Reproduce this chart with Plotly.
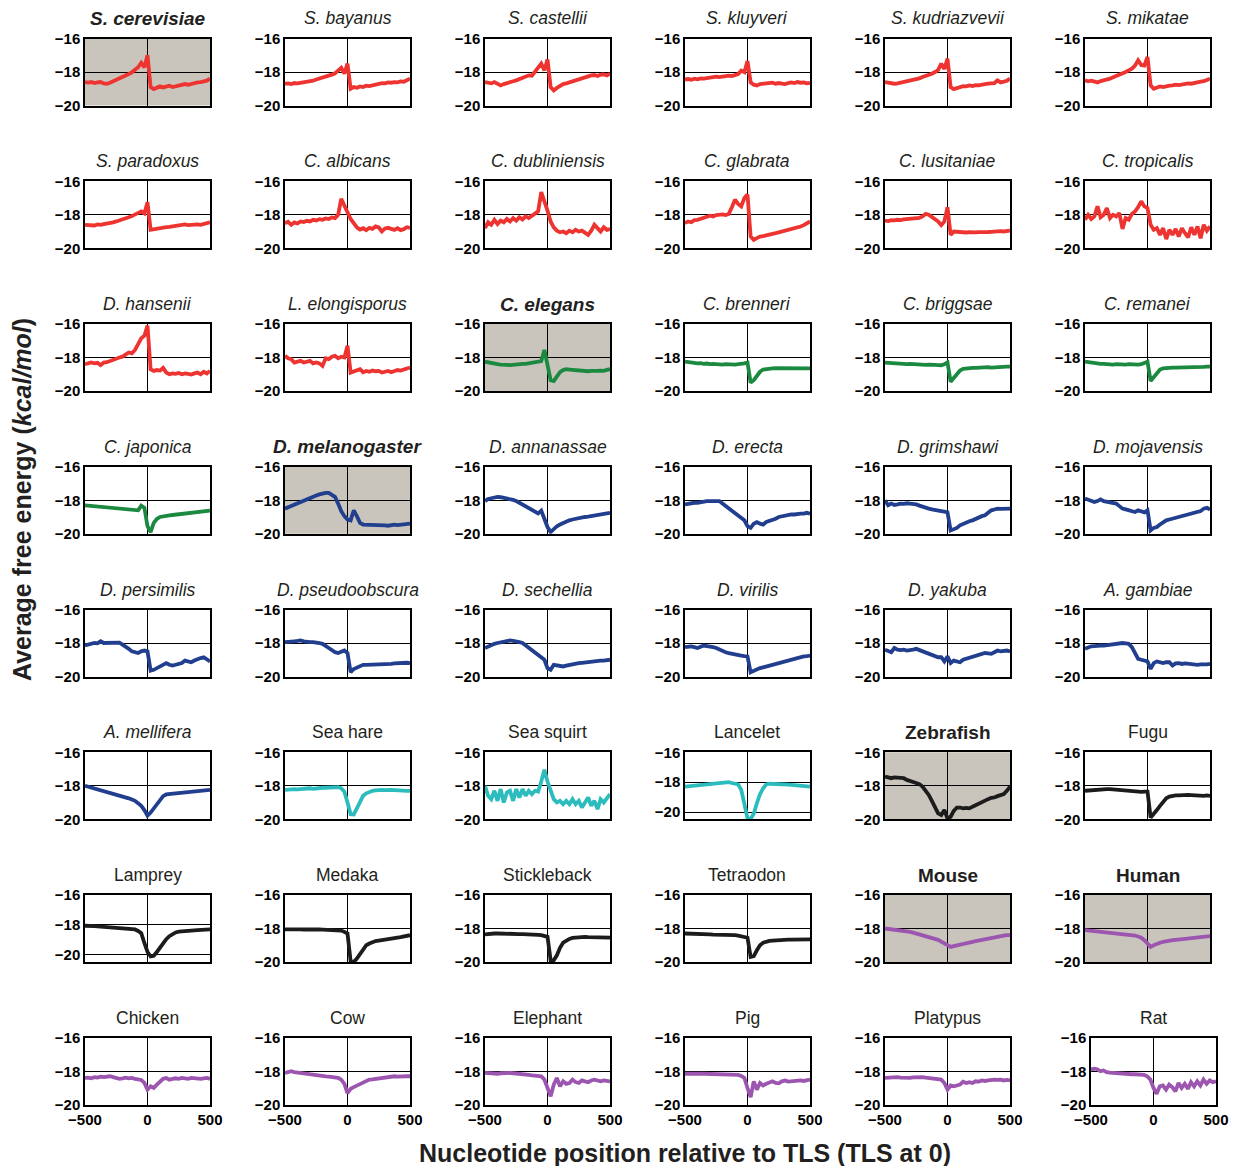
import plotly.graph_objects as go

# Nucleotide positions relative to the translation start site (TLS)
positions = list(range(-500, 501, 25))

# Average folding free energy (kcal/mol) along the window, one profile per species
s_cerevisiae = [-18.60, -18.63, -18.60, -18.66, -18.62, -18.60, -18.68, -18.70, -18.64, -18.56,
                -18.50, -18.40, -18.30, -18.22, -18.12, -18.02, -17.90, -17.72, -17.45, -17.72,
                -17.00, -18.90, -19.02, -18.95, -18.86, -18.92, -18.84, -18.82, -18.90, -18.84,
                -18.80, -18.76, -18.72, -18.76, -18.70, -18.66, -18.62, -18.60, -18.56, -18.52, -18.40]
s_bayanus = [-18.70, -18.68, -18.72, -18.66, -18.68, -18.65, -18.66, -18.62, -18.60, -18.52,
             -18.45, -18.40, -18.32, -18.28, -18.22, -18.16, -18.08, -17.92, -17.75, -18.10,
             -17.50, -19.00, -18.90, -18.94, -18.86, -18.90, -18.82, -18.84, -18.78, -18.74,
             -18.72, -18.66, -18.68, -18.62, -18.64, -18.60, -18.62, -18.56, -18.58, -18.50, -18.40]
s_castellii = [-18.60, -18.62, -18.68, -18.60, -18.72, -18.80, -18.72, -18.68, -18.60, -18.55,
               -18.50, -18.42, -18.36, -18.28, -18.20, -18.22, -18.00, -17.75, -17.50, -17.90,
               -17.25, -18.90, -19.10, -18.95, -18.80, -18.72, -18.68, -18.62, -18.58, -18.52,
               -18.45, -18.38, -18.30, -18.24, -18.20, -18.18, -18.24, -18.16, -18.15, -18.20, -18.10]
s_kluyveri = [-18.45, -18.42, -18.46, -18.40, -18.44, -18.38, -18.40, -18.36, -18.32, -18.30,
              -18.28, -18.30, -18.26, -18.24, -18.22, -18.24, -18.18, -18.12, -17.92, -18.02,
              -17.35, -18.62, -18.76, -18.80, -18.72, -18.70, -18.66, -18.68, -18.64, -18.70,
              -18.66, -18.70, -18.72, -18.66, -18.62, -18.66, -18.60, -18.64, -18.62, -18.68, -18.65]
s_kudriazvevii = [-18.60, -18.64, -18.66, -18.70, -18.68, -18.64, -18.60, -18.56, -18.52, -18.48,
                  -18.45, -18.38, -18.30, -18.24, -18.16, -18.10, -18.00, -17.88, -17.50, -17.82,
                  -17.20, -18.90, -19.02, -18.94, -18.88, -18.84, -18.86, -18.80, -18.84, -18.78,
                  -18.80, -18.74, -18.72, -18.70, -18.68, -18.66, -18.50, -18.62, -18.58, -18.52, -18.40]
s_mikatae = [-18.50, -18.56, -18.52, -18.60, -18.62, -18.54, -18.50, -18.44, -18.40, -18.32,
             -18.25, -18.18, -18.10, -18.00, -17.90, -17.80, -17.62, -17.30, -17.58, -17.62,
             -17.10, -18.80, -19.00, -18.92, -18.86, -18.90, -18.84, -18.82, -18.80, -18.76,
             -18.78, -18.74, -18.72, -18.68, -18.70, -18.64, -18.60, -18.58, -18.55, -18.48, -18.40]
s_paradoxus = [-18.60, -18.62, -18.60, -18.64, -18.58, -18.60, -18.56, -18.54, -18.50, -18.45,
               -18.40, -18.35, -18.28, -18.22, -18.15, -18.08, -18.00, -17.88, -17.80, -17.92,
               -17.25, -18.90, -18.86, -18.82, -18.80, -18.78, -18.74, -18.72, -18.70, -18.66,
               -18.64, -18.62, -18.58, -18.62, -18.60, -18.56, -18.58, -18.60, -18.56, -18.52, -18.45]
c_albicans = [-18.50, -18.42, -18.60, -18.46, -18.52, -18.40, -18.44, -18.36, -18.40, -18.30,
              -18.34, -18.26, -18.30, -18.22, -18.26, -18.16, -18.20, -18.00, -17.05, -17.40,
              -17.85, -18.25, -18.55, -18.75, -18.88, -18.80, -18.92, -18.78, -18.84, -18.70,
              -18.76, -19.00, -18.82, -18.78, -18.84, -18.90, -18.80, -18.92, -18.86, -18.74, -18.78]
c_dubliniensis = [-18.80, -18.45, -18.60, -18.30, -18.55, -18.35, -18.45, -18.25, -18.40, -18.20,
                  -18.35, -18.15, -18.28, -18.10, -18.20, -18.05, -17.95, -17.80, -16.65, -17.15,
                  -17.75, -18.40, -18.75, -18.95, -19.05, -19.00, -19.10, -18.95, -19.05, -18.90,
                  -19.00, -18.95, -19.10, -19.20, -18.95, -18.60, -18.80, -19.00, -18.75, -18.90, -18.85]
c_glabrata = [-18.50, -18.40, -18.45, -18.32, -18.30, -18.22, -18.18, -18.12, -18.06, -18.10,
              -18.02, -18.00, -17.98, -18.02, -17.95, -17.55, -17.10, -17.35, -17.50, -17.00,
              -16.80, -19.30, -19.50, -19.40, -19.30, -19.28, -19.22, -19.20, -19.15, -19.10,
              -19.05, -19.00, -18.98, -18.92, -18.88, -18.82, -18.76, -18.70, -18.62, -18.52, -18.40]
c_lusitaniae = [-18.35, -18.38, -18.32, -18.34, -18.30, -18.32, -18.28, -18.26, -18.24, -18.22,
                -18.20, -18.18, -18.10, -17.95, -18.00, -18.12, -18.25, -18.40, -18.62, -18.40,
                -17.55, -19.20, -19.00, -19.02, -19.05, -19.02, -19.06, -19.04, -19.02, -19.05,
                -19.04, -19.02, -19.05, -19.03, -19.02, -19.00, -19.02, -18.98, -19.00, -18.96, -18.95]
c_tropicalis = [-18.30, -18.00, -18.25, -18.10, -17.50, -18.15, -18.00, -17.60, -18.20, -18.00,
                -18.10, -17.90, -18.85, -18.20, -18.30, -17.95, -17.80, -17.55, -17.20, -17.50,
                -17.60, -18.60, -18.90, -18.80, -19.20, -18.80, -19.45, -18.90, -19.20, -18.85,
                -19.30, -18.80, -19.10, -19.35, -18.75, -19.20, -18.70, -19.40, -18.60, -18.95, -18.70]
d_hansenii = [-18.40, -18.35, -18.30, -18.35, -18.32, -18.45, -18.30, -18.28, -18.20, -18.15,
              -18.10, -18.00, -17.95, -17.85, -17.70, -17.75, -17.55, -17.20, -16.85, -16.70,
              -16.10, -18.70, -18.80, -18.75, -18.78, -18.62, -18.90, -19.00, -18.95, -18.98,
              -18.92, -19.00, -18.95, -18.98, -19.02, -18.95, -18.90, -19.00, -18.85, -18.95, -18.80]
l_elongisporus = [-17.90, -18.05, -18.10, -18.30, -18.25, -18.20, -18.30, -18.25, -18.20, -18.35,
                  -18.30, -18.35, -18.50, -18.05, -18.10, -17.95, -17.90, -18.05, -17.95, -18.00,
                  -17.30, -18.90, -18.85, -18.80, -18.70, -18.88, -18.80, -18.85, -18.78, -18.82,
                  -18.80, -18.90, -18.85, -18.80, -18.88, -18.82, -18.75, -18.78, -18.70, -18.65, -18.60]
c_elegans = [-18.25, -18.30, -18.35, -18.38, -18.40, -18.42, -18.45, -18.44, -18.45, -18.42,
             -18.40, -18.40, -18.38, -18.38, -18.35, -18.34, -18.32, -18.28, -18.22, -17.55,
             -18.40, -19.35, -19.40, -19.10, -18.88, -18.75, -18.70, -18.72, -18.74, -18.76,
             -18.78, -18.80, -18.80, -18.82, -18.80, -18.82, -18.80, -18.78, -18.80, -18.74, -18.70]
c_brenneri = [-18.25, -18.28, -18.30, -18.32, -18.35, -18.34, -18.38, -18.36, -18.40, -18.38,
              -18.40, -18.40, -18.42, -18.40, -18.42, -18.40, -18.42, -18.40, -18.40, -18.35,
              -18.30, -19.50, -19.35, -19.10, -18.85, -18.72, -18.68, -18.66, -18.65, -18.64,
              -18.64, -18.62, -18.63, -18.62, -18.60, -18.62, -18.60, -18.62, -18.64, -18.62, -18.65]
c_briggsae = [-18.30, -18.32, -18.34, -18.36, -18.35, -18.38, -18.37, -18.40, -18.38, -18.40,
              -18.42, -18.40, -18.42, -18.44, -18.42, -18.45, -18.44, -18.45, -18.46, -18.40,
              -18.30, -19.45, -19.25, -19.00, -18.78, -18.68, -18.65, -18.64, -18.62, -18.62,
              -18.60, -18.62, -18.60, -18.58, -18.60, -18.58, -18.56, -18.58, -18.56, -18.55, -18.55]
c_remanei = [-18.25, -18.28, -18.32, -18.34, -18.35, -18.38, -18.38, -18.40, -18.40, -18.42,
             -18.40, -18.42, -18.40, -18.42, -18.40, -18.42, -18.40, -18.42, -18.40, -18.32,
             -18.25, -19.40, -19.20, -18.95, -18.72, -18.65, -18.62, -18.62, -18.60, -18.60,
             -18.60, -18.58, -18.60, -18.58, -18.56, -18.58, -18.56, -18.55, -18.56, -18.54, -18.55]
c_japonica = [-18.30, -18.32, -18.35, -18.34, -18.38, -18.40, -18.40, -18.42, -18.44, -18.45,
              -18.46, -18.48, -18.50, -18.52, -18.54, -18.56, -18.58, -18.60, -18.32, -18.45,
              -19.55, -19.90, -19.35, -19.12, -19.00, -18.95, -18.92, -18.90, -18.88, -18.86,
              -18.84, -18.82, -18.80, -18.78, -18.76, -18.74, -18.72, -18.70, -18.68, -18.65, -18.62]
d_melanogaster = [-18.50, -18.42, -18.32, -18.25, -18.15, -18.08, -18.00, -17.90, -17.85, -17.78,
                  -17.72, -17.65, -17.60, -17.56, -17.56, -17.65, -17.80, -18.20, -18.65, -18.95,
                  -19.15, -19.20, -18.60, -18.95, -19.35, -19.45, -19.45, -19.48, -19.46, -19.48,
                  -19.50, -19.48, -19.50, -19.52, -19.48, -19.46, -19.48, -19.45, -19.44, -19.42, -19.40]
d_annanassae = [-18.05, -17.92, -17.88, -17.82, -17.80, -17.82, -17.85, -17.88, -17.92, -17.98,
                -18.05, -18.15, -18.25, -18.35, -18.45, -18.55, -18.65, -18.78, -18.62, -19.10,
                -19.60, -19.90, -19.70, -19.55, -19.45, -19.35, -19.28, -19.20, -19.15, -19.10,
                -19.05, -19.02, -19.00, -18.98, -18.95, -18.92, -18.90, -18.85, -18.82, -18.78, -18.75]
d_erecta = [-18.25, -18.20, -18.20, -18.15, -18.15, -18.10, -18.10, -18.05, -18.05, -18.05,
            -18.00, -18.05, -18.20, -18.35, -18.50, -18.65, -18.80, -18.95, -19.05, -19.20,
            -19.55, -19.65, -19.40, -19.30, -19.40, -19.45, -19.30, -19.25, -19.20, -19.10,
            -19.00, -18.95, -18.90, -18.90, -18.85, -18.85, -18.80, -18.80, -18.80, -18.75, -18.80]
d_grimshawi = [-18.00, -18.30, -18.20, -18.28, -18.25, -18.20, -18.22, -18.18, -18.20, -18.22,
               -18.25, -18.32, -18.40, -18.45, -18.50, -18.55, -18.60, -18.62, -18.65, -18.68,
               -18.72, -19.80, -19.75, -19.65, -19.50, -19.40, -19.30, -19.25, -19.20, -19.10,
               -19.00, -18.95, -18.90, -18.75, -18.60, -18.55, -18.50, -18.52, -18.50, -18.48, -18.50]
d_mojavensis = [-17.90, -17.95, -18.00, -18.10, -18.05, -17.95, -18.05, -18.10, -18.12, -18.15,
                -18.20, -18.35, -18.50, -18.55, -18.60, -18.65, -18.70, -18.60, -18.68, -18.72,
                -18.60, -19.80, -19.65, -19.60, -19.45, -19.30, -19.20, -19.15, -19.10, -19.05,
                -19.00, -18.95, -18.92, -18.90, -18.85, -18.80, -18.75, -18.65, -18.50, -18.45, -18.55]
d_persimilis = [-18.15, -18.10, -18.05, -18.00, -18.02, -17.90, -18.00, -18.00, -18.00, -17.95,
                -17.95, -17.98, -18.10, -18.20, -18.35, -18.50, -18.55, -18.60, -18.50, -18.45,
                -18.50, -19.65, -19.60, -19.50, -19.35, -19.30, -19.20, -19.30, -19.35, -19.30,
                -19.25, -19.20, -19.05, -19.10, -19.15, -19.05, -18.95, -18.90, -18.85, -19.00, -19.10]
d_pseudoobscura = [-17.95, -17.95, -17.95, -17.90, -17.88, -17.85, -17.90, -17.95, -17.95, -17.95,
                   -17.95, -18.00, -18.05, -18.15, -18.30, -18.42, -18.55, -18.60, -18.50, -18.45,
                   -18.60, -19.75, -19.55, -19.45, -19.35, -19.30, -19.30, -19.30, -19.28, -19.30,
                   -19.30, -19.28, -19.25, -19.25, -19.25, -19.22, -19.20, -19.22, -19.20, -19.18, -19.20]
d_sechellia = [-18.30, -18.20, -18.15, -18.05, -18.00, -17.95, -17.90, -17.88, -17.85, -17.88,
               -17.90, -17.95, -18.00, -18.15, -18.30, -18.45, -18.60, -18.72, -18.85, -19.00,
               -19.50, -19.60, -19.30, -19.35, -19.40, -19.40, -19.35, -19.30, -19.25, -19.22,
               -19.20, -19.18, -19.15, -19.12, -19.10, -19.08, -19.08, -19.05, -19.05, -19.02, -19.00]
d_virilis = [-18.25, -18.22, -18.20, -18.25, -18.30, -18.22, -18.15, -18.18, -18.20, -18.25,
             -18.30, -18.40, -18.50, -18.55, -18.60, -18.65, -18.70, -18.72, -18.75, -18.78,
             -18.80, -19.75, -19.65, -19.55, -19.50, -19.45, -19.40, -19.35, -19.30, -19.25,
             -19.20, -19.15, -19.10, -19.05, -19.00, -18.92, -18.85, -18.82, -18.80, -18.78, -18.75]
d_yakuba = [-18.40, -18.50, -18.55, -18.30, -18.40, -18.42, -18.40, -18.45, -18.45, -18.40,
            -18.35, -18.42, -18.50, -18.58, -18.65, -18.72, -18.80, -18.85, -18.85, -19.10,
            -18.80, -19.20, -19.05, -19.10, -19.15, -19.00, -18.95, -18.88, -18.80, -18.75,
            -18.70, -18.65, -18.60, -18.62, -18.65, -18.55, -18.45, -18.50, -18.48, -18.45, -18.50]
a_gambiae = [-18.35, -18.25, -18.20, -18.18, -18.15, -18.15, -18.15, -18.12, -18.10, -18.08,
             -18.05, -18.02, -18.00, -18.02, -18.05, -18.25, -18.60, -18.95, -19.00, -19.05,
             -19.10, -19.55, -19.20, -19.10, -19.15, -19.20, -19.15, -19.15, -19.35, -19.22,
             -19.20, -19.25, -19.22, -19.25, -19.25, -19.28, -19.30, -19.28, -19.30, -19.28, -19.25]
a_mellifera = [-18.00, -18.05, -18.10, -18.15, -18.20, -18.28, -18.35, -18.40, -18.45, -18.48,
               -18.50, -18.55, -18.60, -18.68, -18.75, -18.82, -18.90, -19.05, -19.20, -19.45,
               -19.78, -19.60, -19.35, -19.10, -18.85, -18.62, -18.52, -18.50, -18.48, -18.46,
               -18.45, -18.42, -18.40, -18.38, -18.35, -18.34, -18.32, -18.30, -18.28, -18.26, -18.25]
sea_hare = [-18.25, -18.22, -18.24, -18.20, -18.22, -18.20, -18.18, -18.20, -18.15, -18.18,
            -18.15, -18.14, -18.12, -18.12, -18.10, -18.10, -18.10, -18.08, -18.15, -18.35,
            -19.00, -19.70, -19.72, -19.35, -18.90, -18.60, -18.45, -18.35, -18.30, -18.28,
            -18.25, -18.25, -18.26, -18.24, -18.25, -18.26, -18.28, -18.26, -18.28, -18.30, -18.30]
sea_squirt = [-18.00, -18.60, -18.80, -18.30, -18.90, -18.20, -19.00, -18.40, -18.30, -18.90,
              -18.20, -18.70, -18.20, -18.60, -18.30, -18.50, -18.30, -18.35, -17.75, -17.05,
              -17.75, -18.35, -18.80, -19.00, -18.90, -19.10, -18.90, -19.10, -18.80, -19.10,
              -18.90, -19.30, -19.00, -18.70, -19.20, -18.90, -19.40, -18.80, -19.00, -18.70, -18.50]
lancelet = [-18.30, -18.28, -18.25, -18.24, -18.20, -18.18, -18.15, -18.12, -18.10, -18.08,
            -18.05, -18.02, -18.00, -17.98, -18.00, -18.05, -18.10, -18.15, -18.50, -19.60,
            -20.40, -20.45, -20.10, -19.40, -18.80, -18.40, -18.15, -18.10, -18.10, -18.12,
            -18.12, -18.14, -18.15, -18.16, -18.18, -18.20, -18.20, -18.22, -18.24, -18.26, -18.30]
zebrafish = [-17.45, -17.50, -17.55, -17.50, -17.50, -17.55, -17.55, -17.65, -17.72, -17.80,
             -17.85, -17.90, -18.05, -18.30, -18.55, -18.90, -19.30, -19.65, -19.75, -19.45,
             -19.95, -19.85, -19.50, -19.30, -19.30, -19.35, -19.32, -19.35, -19.25, -19.15,
             -19.05, -18.95, -18.88, -18.80, -18.72, -18.70, -18.62, -18.58, -18.50, -18.30, -18.05]
fugu = [-18.30, -18.28, -18.26, -18.24, -18.25, -18.22, -18.22, -18.20, -18.20, -18.22,
        -18.22, -18.24, -18.25, -18.28, -18.30, -18.32, -18.35, -18.34, -18.36, -18.35,
        -18.35, -19.90, -19.70, -19.45, -19.20, -18.95, -18.75, -18.65, -18.60, -18.58,
        -18.58, -18.56, -18.56, -18.55, -18.56, -18.58, -18.56, -18.58, -18.60, -18.58, -18.60]
lamprey = [-18.05, -18.08, -18.10, -18.08, -18.10, -18.12, -18.12, -18.15, -18.15, -18.18,
           -18.18, -18.20, -18.20, -18.22, -18.25, -18.28, -18.30, -18.40, -18.55, -19.20,
           -19.80, -20.10, -20.05, -19.80, -19.50, -19.20, -18.95, -18.75, -18.60, -18.50,
           -18.45, -18.42, -18.40, -18.38, -18.38, -18.36, -18.35, -18.34, -18.32, -18.30, -18.30]
medaka = [-18.05, -18.04, -18.05, -18.05, -18.06, -18.05, -18.06, -18.05, -18.06, -18.06,
          -18.06, -18.06, -18.07, -18.08, -18.08, -18.08, -18.10, -18.10, -18.12, -18.20,
          -18.30, -19.95, -20.00, -19.80, -19.55, -19.25, -19.00, -18.90, -18.80, -18.75,
          -18.72, -18.70, -18.68, -18.65, -18.62, -18.58, -18.55, -18.52, -18.48, -18.45, -18.40]
stickleback = [-18.35, -18.32, -18.32, -18.30, -18.30, -18.30, -18.28, -18.30, -18.30, -18.32,
               -18.32, -18.33, -18.34, -18.34, -18.35, -18.36, -18.36, -18.38, -18.40, -18.45,
               -18.50, -19.90, -19.90, -19.60, -19.15, -18.85, -18.70, -18.62, -18.56, -18.54,
               -18.52, -18.52, -18.50, -18.52, -18.52, -18.54, -18.54, -18.52, -18.54, -18.55, -18.55]
tetraodon = [-18.30, -18.30, -18.32, -18.32, -18.33, -18.34, -18.34, -18.35, -18.35, -18.36,
             -18.36, -18.37, -18.38, -18.38, -18.40, -18.40, -18.40, -18.42, -18.45, -18.50,
             -18.55, -19.70, -19.65, -19.30, -19.00, -18.85, -18.78, -18.74, -18.72, -18.70,
             -18.70, -18.68, -18.68, -18.66, -18.67, -18.66, -18.66, -18.65, -18.65, -18.64, -18.65]
mouse = [-18.00, -18.02, -18.05, -18.08, -18.10, -18.12, -18.15, -18.18, -18.20, -18.25,
         -18.30, -18.35, -18.40, -18.45, -18.50, -18.55, -18.60, -18.68, -18.78, -18.90,
         -19.00, -19.10, -19.05, -19.00, -18.95, -18.92, -18.88, -18.85, -18.80, -18.76,
         -18.72, -18.68, -18.64, -18.60, -18.55, -18.50, -18.46, -18.44, -18.42, -18.40, -18.40]
human = [-18.10, -18.12, -18.14, -18.15, -18.15, -18.18, -18.20, -18.22, -18.25, -18.27,
         -18.28, -18.30, -18.32, -18.34, -18.36, -18.40, -18.42, -18.48, -18.55, -18.70,
         -18.90, -19.10, -19.00, -18.90, -18.85, -18.80, -18.75, -18.72, -18.70, -18.68,
         -18.66, -18.64, -18.62, -18.60, -18.58, -18.56, -18.55, -18.52, -18.50, -18.48, -18.45]
chicken = [-18.40, -18.38, -18.42, -18.35, -18.38, -18.32, -18.35, -18.30, -18.30, -18.35,
           -18.40, -18.45, -18.42, -18.38, -18.42, -18.40, -18.45, -18.48, -18.52, -18.70,
           -19.10, -18.90, -19.00, -18.80, -18.60, -18.45, -18.40, -18.50, -18.45, -18.42,
           -18.45, -18.40, -18.42, -18.45, -18.40, -18.42, -18.40, -18.45, -18.42, -18.40, -18.45]
cow = [-18.10, -18.02, -18.00, -18.05, -18.08, -18.10, -18.12, -18.15, -18.18, -18.20,
       -18.22, -18.25, -18.28, -18.30, -18.32, -18.35, -18.38, -18.40, -18.50, -18.75,
       -19.30, -19.05, -18.95, -18.85, -18.75, -18.65, -18.55, -18.50, -18.48, -18.45,
       -18.42, -18.40, -18.38, -18.36, -18.32, -18.30, -18.32, -18.30, -18.28, -18.30, -18.30]
elephant = [-18.10, -18.12, -18.10, -18.15, -18.15, -18.12, -18.10, -18.12, -18.10, -18.12,
            -18.15, -18.15, -18.18, -18.20, -18.22, -18.24, -18.25, -18.28, -18.30, -18.50,
            -19.00, -19.50, -18.80, -18.40, -18.90, -18.60, -18.75, -18.70, -18.50, -18.65,
            -18.70, -18.55, -18.60, -18.65, -18.55, -18.50, -18.55, -18.60, -18.55, -18.60, -18.60]
pig = [-18.15, -18.14, -18.15, -18.16, -18.14, -18.15, -18.15, -18.16, -18.15, -18.16,
       -18.16, -18.17, -18.18, -18.18, -18.20, -18.20, -18.20, -18.22, -18.28, -18.40,
       -19.00, -19.55, -18.60, -19.10, -18.70, -18.85, -18.75, -18.70, -18.60, -18.70,
       -18.72, -18.60, -18.55, -18.62, -18.60, -18.58, -18.60, -18.55, -18.58, -18.52, -18.50]
platypus = [-18.40, -18.38, -18.36, -18.35, -18.35, -18.38, -18.40, -18.38, -18.40, -18.36,
            -18.35, -18.38, -18.35, -18.38, -18.40, -18.42, -18.45, -18.48, -18.50, -18.70,
            -19.10, -18.85, -18.90, -18.85, -18.80, -18.62, -18.70, -18.65, -18.70, -18.60,
            -18.62, -18.55, -18.58, -18.55, -18.52, -18.50, -18.52, -18.50, -18.55, -18.52, -18.55]
rat = [-17.90, -17.85, -17.88, -18.00, -17.95, -18.05, -18.08, -18.10, -18.10, -18.12,
       -18.15, -18.15, -18.16, -18.18, -18.18, -18.20, -18.20, -18.22, -18.30, -18.50,
       -19.00, -19.35, -18.90, -18.85, -19.10, -18.80, -18.95, -19.20, -18.70, -19.00,
       -18.75, -19.05, -18.65, -18.90, -18.60, -18.85, -18.50, -18.75, -18.55, -18.65, -18.60]

species = ["S. cerevisiae", "S. bayanus", "S. castellii", "S. kluyveri", "S. kudriazvevii", "S. mikatae",
           "S. paradoxus", "C. albicans", "C. dubliniensis", "C. glabrata", "C. lusitaniae", "C. tropicalis",
           "D. hansenii", "L. elongisporus", "C. elegans", "C. brenneri", "C. briggsae", "C. remanei",
           "C. japonica", "D. melanogaster", "D. annanassae", "D. erecta", "D. grimshawi", "D. mojavensis",
           "D. persimilis", "D. pseudoobscura", "D. sechellia", "D. virilis", "D. yakuba", "A. gambiae",
           "A. mellifera", "Sea hare", "Sea squirt", "Lancelet", "Zebrafish", "Fugu",
           "Lamprey", "Medaka", "Stickleback", "Tetraodon", "Mouse", "Human",
           "Chicken", "Cow", "Elephant", "Pig", "Platypus", "Rat"]

profiles = [s_cerevisiae, s_bayanus, s_castellii, s_kluyveri, s_kudriazvevii, s_mikatae,
            s_paradoxus, c_albicans, c_dubliniensis, c_glabrata, c_lusitaniae, c_tropicalis,
            d_hansenii, l_elongisporus, c_elegans, c_brenneri, c_briggsae, c_remanei,
            c_japonica, d_melanogaster, d_annanassae, d_erecta, d_grimshawi, d_mojavensis,
            d_persimilis, d_pseudoobscura, d_sechellia, d_virilis, d_yakuba, a_gambiae,
            a_mellifera, sea_hare, sea_squirt, lancelet, zebrafish, fugu,
            lamprey, medaka, stickleback, tetraodon, mouse, human,
            chicken, cow, elephant, pig, platypus, rat]

# Taxonomic group of each species (drives the line colour)
groups = (["fungi"] * 14 + ["nematodes"] * 5 + ["insects"] * 12 +
          ["invertebrates"] * 3 + ["fish"] * 6 + ["mammals"] * 8)
group_colors = {"fungi": "#ee3430", "nematodes": "#1b8a40", "insects": "#213f8e",
                "invertebrates": "#2cbcbd", "fish": "#1c1c1c", "mammals": "#9c56b0"}

# Model organisms are shown in bold on a shaded panel
model_organisms = {"S. cerevisiae", "C. elegans", "D. melanogaster", "Zebrafish", "Mouse", "Human"}
n_italic = 31  # scientific binomials are italicised
deep_panels = {"Lancelet", "Lamprey"}  # y-axis reaches a little below -20

W, H = 1246, 1166
PANEL_W, PANEL_H = 125, 67
FONT = "Liberation Sans, Arial, Helvetica, sans-serif"

fig = go.Figure()
annotations = []
shapes = []

for k, (name, vals) in enumerate(zip(species, profiles)):
    r, c = divmod(k, 6)
    n = k + 1
    xa = "x" if n == 1 else f"x{n}"
    ya = "y" if n == 1 else f"y{n}"
    left = 85 + 200 * c + (6 if k == len(species) - 1 else 0)
    top = 38.5 + 142.75 * r

    fig.add_trace(go.Scatter(
        x=positions, y=vals, mode="lines",
        line=dict(color=group_colors[groups[k]], width=3.8),
        xaxis=xa, yaxis=ya, showlegend=False, hoverinfo="skip"))

    axis_common = dict(showgrid=True, gridcolor="#000000", gridwidth=1, zeroline=False,
                       showline=True, linecolor="#000000", linewidth=1.5, mirror=True,
                       ticks="", automargin=False,
                       tickfont=dict(family=FONT, size=15, color="#000000", weight="bold"))
    fig.layout["xaxis" if n == 1 else f"xaxis{n}"] = dict(
        domain=[left / W, (left + PANEL_W) / W], range=[-500, 500], anchor=ya,
        tickvals=[-500, 0, 500], showticklabels=(r == 7), **axis_common)
    y_low = -20.47 if name in deep_panels else -20
    fig.layout["yaxis" if n == 1 else f"yaxis{n}"] = dict(
        domain=[1 - (top + PANEL_H) / H, 1 - top / H], range=[y_low, -16], anchor=xa,
        tickvals=[-20, -18, -16], showticklabels=True, **axis_common)

    label = f"<i>{name}</i>" if k < n_italic else name
    bold = name in model_organisms
    if bold:
        label = f"<b>{label}</b>"
        shapes.append(dict(type="rect", xref=f"{xa} domain", yref=f"{ya} domain",
                           x0=0, x1=1, y0=0, y1=1, fillcolor="#c9c5bc",
                           line=dict(width=0), layer="below"))
    annotations.append(dict(
        text=label, x=(left + PANEL_W / 2) / W, y=1 - (top - 20) / H,
        xref="paper", yref="paper", xanchor="center", yanchor="middle", showarrow=False,
        font=dict(family=FONT, size=19 if bold else 17.5, color="#231f20")))

annotations.append(dict(
    text="<b>Average free energy (<i>kcal/mol</i>)</b>", textangle=-90,
    x=22 / W, y=1 - 500 / H, xref="paper", yref="paper",
    xanchor="center", yanchor="middle", showarrow=False,
    font=dict(family=FONT, size=25, color="#231f20")))
annotations.append(dict(
    text="<b>Nucleotide position relative to TLS (TLS at 0)</b>",
    x=685 / W, y=1 - 1153 / H, xref="paper", yref="paper",
    xanchor="center", yanchor="middle", showarrow=False,
    font=dict(family=FONT, size=25, color="#231f20")))

fig.update_layout(width=W, height=H, margin=dict(l=0, r=0, t=0, b=0),
                  paper_bgcolor="white", plot_bgcolor="white",
                  annotations=annotations, shapes=shapes)

fig.write_html("out.html")
